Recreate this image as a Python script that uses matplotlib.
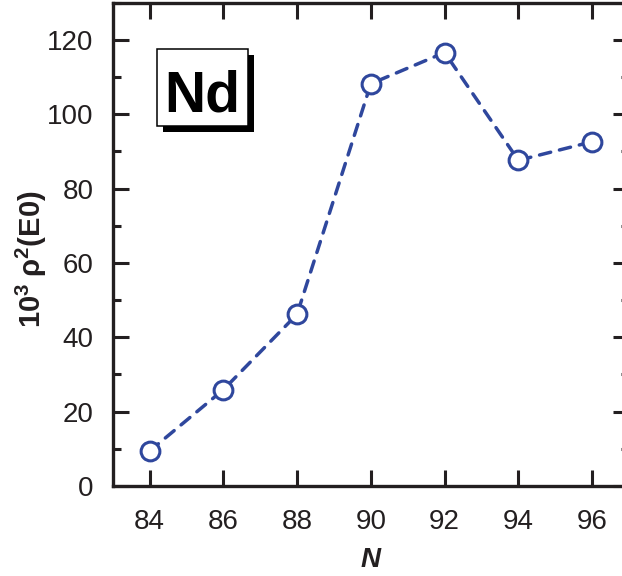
import matplotlib
matplotlib.use("Agg")
import matplotlib.pyplot as plt
from matplotlib.ticker import MultipleLocator
from matplotlib.patches import Rectangle

# Neutron number and E0 strength for Nd isotopes
neutron_number = [84, 86, 88, 90, 92, 94, 96]
rho2_e0 = [9.4, 25.9, 46.2, 108.2, 116.6, 87.6, 92.6]
x_ticks = [84, 86, 88, 90, 92, 94, 96]
y_ticks = [0, 20, 40, 60, 80, 100, 120]

plt.rcParams['font.family'] = ['Liberation Sans', 'DejaVu Sans']
plt.rcParams['mathtext.fontset'] = 'custom'
plt.rcParams['mathtext.rm'] = 'Liberation Sans'
plt.rcParams['mathtext.it'] = 'Liberation Sans:italic'
plt.rcParams['mathtext.bf'] = 'Liberation Sans:bold'

W, H = 622, 576
fig = plt.figure(figsize=(W / 100, H / 100), dpi=100)
left, right, bottom, top = 112.7, 629.0, 486.0, 2.7
ax = fig.add_axes([left / W, 1 - bottom / H, (right - left) / W, (bottom - top) / H])

blue = '#2f479d'
ax.plot(neutron_number, rho2_e0, linestyle=(0, (3.3, 2.6)), dash_capstyle='round',
        color=blue, lw=2.5, marker='o', markersize=13.5, markerfacecolor='white',
        markeredgecolor=blue, markeredgewidth=2.2, zorder=3)

ax.set_xlim(83, 97)
ax.set_ylim(0, 130)
ax.set_xticks(x_ticks)
ax.set_yticks(y_ticks)
ax.yaxis.set_minor_locator(MultipleLocator(10))

ink = '#231f20'
for s in ax.spines.values():
    s.set_linewidth(2.4)
    s.set_color(ink)

ax.tick_params(axis='both', which='major', direction='in', length=11.5, width=2.2,
               color=ink, labelsize=20, labelcolor='#231f20', top=True, right=True)
ax.tick_params(axis='y', which='minor', direction='in', length=5.8, width=2.2,
               color=ink, right=True)
ax.tick_params(axis='x', which='major', pad=16.5)
ax.tick_params(axis='y', which='major', pad=14)

ax.set_xlabel('N', fontsize=20, fontweight='bold', fontstyle='italic', labelpad=8.5,
              color='#231f20')
ax.set_ylabel(r'$\mathbf{10^3\;\rho^2(E0)}$', fontsize=21, color='#231f20', va='center')
ax.yaxis.set_label_coords(-0.158, 0.47)

# Element label with drop shadow
bx, by, bw, bh = 0.0858, 0.7449, 0.1763, 0.1593
ax.add_patch(Rectangle((bx + 0.0116, by - 0.0124), bw, bh, transform=ax.transAxes,
                       facecolor='black', edgecolor='none', zorder=4))
ax.add_patch(Rectangle((bx, by), bw, bh, transform=ax.transAxes,
                       facecolor='white', edgecolor='black', lw=1.1, zorder=5))
ax.text(bx + bw / 2, 0.7745, 'Nd', transform=ax.transAxes, fontsize=41,
        fontweight='bold', ha='center', va='baseline', color='black', zorder=6)

fig.savefig('out.png', dpi=100)
